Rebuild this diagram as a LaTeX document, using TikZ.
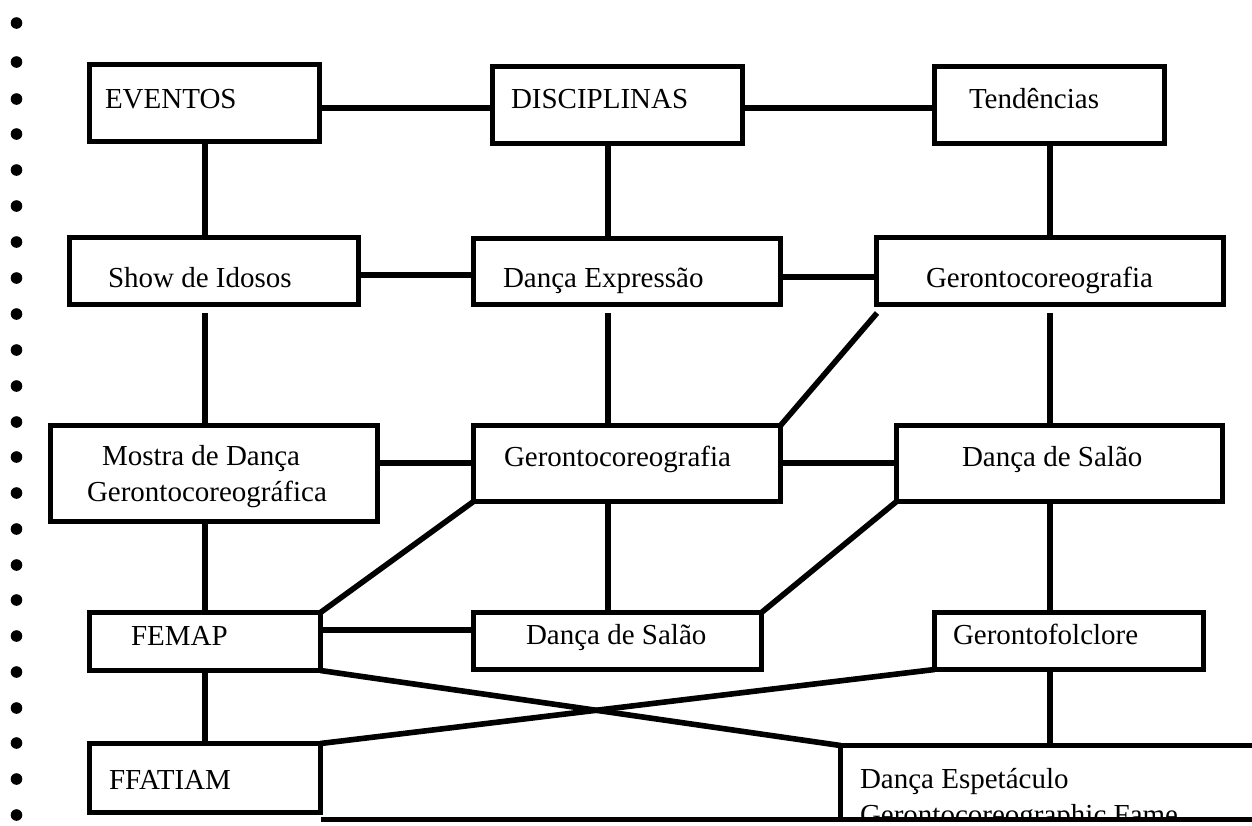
\documentclass[tikz,border=0pt]{standalone}
\usepackage{fontspec}
\setmainfont{Liberation Serif}
\usetikzlibrary{fit}
\begin{document}
\begin{tikzpicture}[x=1pt,y=-1pt,
  box/.style={draw, line width=5.6pt, inner sep=0pt, outer sep=0pt},
  conn/.style={line width=5.6pt},
  txt/.style={inner sep=0pt, outer sep=0pt, anchor=base west, font=\fontsize{29}{36}\selectfont}]
\useasboundingbox (0,0) rectangle (1252,825);
\clip (0,0) rectangle (1252,825);
% bullets of the page
\foreach \by in {23,62,99,134,170,206,242,278,314,350,386,422,457,493,529,565,600,636,672,708,743,779,815}
  \fill (16.5,\by) circle (5.8pt);
% boxes
\node[box, fit={(89.5,64.5)(319.5,141.5)}] (ev) {};
\node[box, fit={(492.5,66.5)(742.5,143.5)}] (dis) {};
\node[box, fit={(934.5,66.5)(1164.5,143.5)}] (ten) {};
\node[box, fit={(69.5,237.5)(358.5,304.5)}] (show) {};
\node[box, fit={(473.5,238.5)(780.5,304.5)}] (dexp) {};
\node[box, fit={(876.5,237.5)(1223.5,304.5)}] (gera) {};
\node[box, fit={(50.5,425.5)(377.5,521.5)}] (mostra) {};
\node[box, fit={(473.5,425.5)(780.5,501.5)}] (gerb) {};
\node[box, fit={(896.5,425.5)(1222.5,501.5)}] (sala) {};
\node[box, fit={(89.5,612.5)(320.5,670.5)}] (femap) {};
\node[box, fit={(473.5,612.5)(761.5,669.5)}] (salb) {};
\node[box, fit={(934.5,612.5)(1203.5,669.5)}] (folc) {};
\node[box, fit={(89.5,743.5)(320.5,812.5)}] (ffat) {};
\node[box, fit={(840.5,745.5)(1320,819.5)}] (esp) {};
% texts
\node[txt] (t-ev) at (105,108) {EVENTOS};
\node[txt] (t-dis) at (511,108) {DISCIPLINAS};
\node[txt] (t-ten) at (969,108) {Tendências};
\node[txt] (t-show) at (108,287) {Show de Idosos};
\node[txt] (t-dexp) at (503,287) {Dança Expressão};
\node[txt] (t-gera) at (926,287) {Gerontocoreografia};
\node[txt] (t-mostra1) at (102,465) {Mostra de Dança};
\node[txt] (t-mostra2) at (87,501) {Gerontocoreográfica};
\node[txt] (t-gerb) at (504,466) {Gerontocoreografia};
\node[txt] (t-sala) at (962,466) {Dança de Salão};
\node[txt] (t-femap) at (131,645) {FEMAP};
\node[txt] (t-salb) at (526,644) {Dança de Salão};
\node[txt] (t-folc) at (953,644) {Gerontofolclore};
\node[txt] (t-ffat) at (109,789) {FFATIAM};
\begin{scope}
  \clip (esp.north west) rectangle (esp.south east);
  \node[txt] (t-esp1) at (860,788) {Dança Espetáculo};
  \node[txt] (t-esp2) at (860,824) {Gerontocoreographic Fame};
\end{scope}
% horizontal connectors
\draw[conn] ([yshift=-5pt]ev.east) -- ([yshift=-3pt]dis.west);
\draw[conn] ([yshift=-3pt]dis.east) -- ([yshift=-3pt]ten.west);
\draw[conn] ([yshift=-4pt]show.east) -- ([yshift=-3.5pt]dexp.west);
\draw[conn] ([yshift=-5.5pt]dexp.east) -- ([yshift=-6pt]gera.west);
\draw[conn] ([yshift=10.5pt]mostra.east) -- ([yshift=0.5pt]gerb.west);
\draw[conn] ([yshift=0.5pt]gerb.east) -- ([yshift=0.5pt]sala.west);
\draw[conn] ([yshift=11.5pt]femap.east) -- ([yshift=11pt]salb.west);
% vertical connectors
\draw[conn] ([xshift=0.5pt]ev.south) -- ([xshift=0.5pt]ev.south |- show.north);
\draw[conn, shorten <=8.5pt] ([xshift=-9pt]show.south) -- ([xshift=-9pt]show.south |- mostra.north);
\draw[conn] ([xshift=-9pt]mostra.south) -- ([xshift=-9pt]mostra.south |- femap.north);
\draw[conn] (femap.south) -- (femap.south |- ffat.north);
\draw[conn] ([xshift=-9.5pt]dis.south) -- ([xshift=-9.5pt]dis.south |- dexp.north);
\draw[conn, shorten <=8.5pt] ([xshift=-19pt]dexp.south) -- ([xshift=-19pt]dexp.south |- gerb.north);
\draw[conn] ([xshift=-19pt]gerb.south) -- ([xshift=-19pt]gerb.south |- salb.north);
\draw[conn] ([xshift=0.5pt]ten.south) -- ([xshift=0.5pt]ten.south |- gera.north);
\draw[conn, shorten <=8.5pt] (gera.south) -- (gera.south |- sala.north);
\draw[conn] ([xshift=-9.5pt]sala.south) -- ([xshift=-9.5pt]sala.south |- folc.north);
\draw[conn] ([xshift=-19pt]folc.south) -- ([xshift=-19pt]folc.south |- esp.north);
% diagonal connectors
\draw[conn] (femap.north east) -- (gerb.south west);
\draw[conn] (gerb.north east) -- ([xshift=0.5pt,yshift=-8.5pt]gera.south west);
\draw[conn] (salb.north east) -- (sala.south west);
\draw[conn] (femap.south east) -- (esp.north west);
\draw[conn] (ffat.north east) -- (folc.south west);
\draw[conn] (ffat.south east |- esp.south west) -- (esp.south west);
\end{tikzpicture}
\end{document}
